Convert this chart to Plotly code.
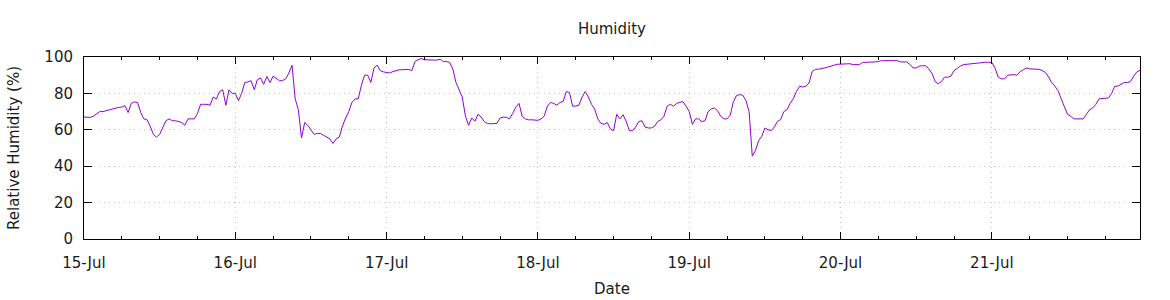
import pandas as pd
import plotly.graph_objects as go

# Relative humidity (%), half-hourly readings, one list per day
jul15 = [67, 67, 66.8, 67.5, 69, 70, 70, 70.5, 71.2, 71.5, 72, 72.3, 72.5, 73.3, 69.5, 74.5,
         75.3, 75, 69.5, 66, 65.5, 62, 57.5, 56, 57.5, 61, 65, 66, 65, 65, 64.5, 64,
         62.5, 66, 66, 66, 69, 74, 74, 74, 73.5, 78, 77, 81, 82, 73.5, 82, 80]
jul16 = [80, 76, 80, 86, 86.3, 87, 82, 87.5, 88.5, 85, 89.3, 86, 89.5, 88, 87, 87,
         88, 91.2, 95.5, 77, 71, 55.5, 64, 62.5, 60, 57.5, 58, 58, 57, 56, 55, 52.5,
         55, 56, 62, 66.5, 70, 75, 77, 77, 84.5, 90, 90, 86, 94, 95.5, 92.5, 91.8]
jul17 = [91.5, 91.2, 92, 92.7, 93, 93, 93, 93.2, 92.5, 97.5, 98.5, 99.2, 98.5, 98.3, 98.3, 98.3,
         98.3, 98.8, 97.5, 97.5, 97, 93.5, 86, 82, 78, 67.5, 62.5, 66.5, 64.7, 68.5, 67, 64.5,
         63.4, 63.3, 63.4, 63.5, 66.5, 67, 66.8, 66, 69, 72.5, 74.5, 67.4, 66, 65.5, 65.5, 65.2]
jul18 = [65.2, 66, 67.5, 73, 75, 74.5, 73.5, 75, 75.6, 81, 80.5, 73, 73, 73.5, 78, 81,
         78, 74, 71.4, 66, 63.5, 63, 64, 60.5, 59.5, 68.5, 66, 68.3, 64.7, 59.5, 59.5, 61.5,
         64.5, 65, 61.5, 61, 61, 62, 64.5, 65.5, 67.5, 73, 74, 73, 74.5, 75.1, 75.5, 73]
jul19 = [70, 63, 66, 66, 64.5, 65, 70, 71.5, 72, 70.5, 67.4, 66, 66, 68, 75.5, 78.8,
         79.3, 79, 76, 70, 45.5, 48.5, 54, 56.4, 61, 60, 59.5, 61.5, 64.7, 65.6, 70, 71,
         74.5, 77, 81, 83.9, 83.5, 84, 85.7, 92, 93.2, 93.3, 93.5, 94, 94.5, 95.2, 95.5, 96]
jul20 = [96, 96.3, 96.3, 96.3, 95.8, 96, 95.8, 97, 97, 97.3, 97.3, 97.3, 97.5, 98, 98, 98,
         98, 97.6, 98, 97.3, 97.3, 97.3, 96, 94, 94, 95, 95.2, 95.2, 93.5, 91, 86.6, 85.3,
         86.5, 88.9, 88.9, 89.5, 92.5, 94, 95, 95.8, 96, 96.3, 96.3, 96.8, 97.1, 97.1, 97.1, 97.1]
jul21 = [97, 94, 89, 88, 88, 90, 90.3, 90.3, 90, 92, 93, 94, 93.5, 93.3, 93.2, 93.2,
         92.5, 91.5, 89, 86, 84, 81.5, 77, 72.5, 68.5, 67.5, 66, 66, 66, 66, 68.5, 71,
         72, 74, 77, 77.3, 77.5, 77.5, 80, 83.9, 84, 85.1, 86, 86, 86.5, 89.5, 91.8, 92.7]

humidity = jul15 + jul16 + jul17 + jul18 + jul19 + jul20 + jul21
times = pd.date_range("2023-07-15 00:00", periods=len(humidity), freq="30min")

y_ticks = [0, 20, 40, 60, 80, 100]

FONT = "DejaVu Sans"
TXT = "#1a1a1a"
GRID = "#c4c4c4"

fig = go.Figure()
fig.add_trace(go.Scatter(x=times, y=humidity, mode="lines",
                         line=dict(color="#9400d3", width=1), showlegend=False))

fig.update_layout(
    width=1170, height=300,
    margin=dict(l=84, r=30, t=57, b=61),
    paper_bgcolor="white", plot_bgcolor="white",
    font=dict(family=FONT, size=15, color=TXT),
    title=dict(text="Humidity", x=0.523, xanchor="center", y=0.903, yanchor="middle",
               yref="container", font=dict(family=FONT, size=15, color=TXT)),
    xaxis=dict(
        type="date", range=[times[0], times[-1]],
        tick0="2023-07-15", dtick=86400000, tickformat="%d-%b",
        ticks="inside", ticklen=7, tickcolor="black", tickwidth=1,
        ticklabelstandoff=10,
        showline=True, linecolor="black", linewidth=1, mirror="ticks",
        showgrid=True, gridcolor=GRID, griddash="1px,4px", gridwidth=1,
        zeroline=False, automargin=False,
        minor=dict(dtick=6 * 3600 * 1000, ticks="inside", ticklen=3,
                   tickcolor="black", showgrid=False),
        title=dict(text="Date", standoff=12, font=dict(family=FONT, size=15)),
        tickfont=dict(family=FONT, size=15),
    ),
    yaxis=dict(
        range=[0, 100], tickvals=y_ticks,
        ticks="inside", ticklen=8, tickcolor="black", tickwidth=1,
        ticklabelstandoff=7,
        showline=True, linecolor="black", linewidth=1, mirror="ticks",
        showgrid=True, gridcolor=GRID, griddash="1px,4px", gridwidth=1,
        zeroline=False, automargin=False,
        title=dict(text="Relative Humidity (%)", standoff=21, font=dict(family=FONT, size=15)),
        tickfont=dict(family=FONT, size=15),
    ),
)

fig.write_html("out.html")
